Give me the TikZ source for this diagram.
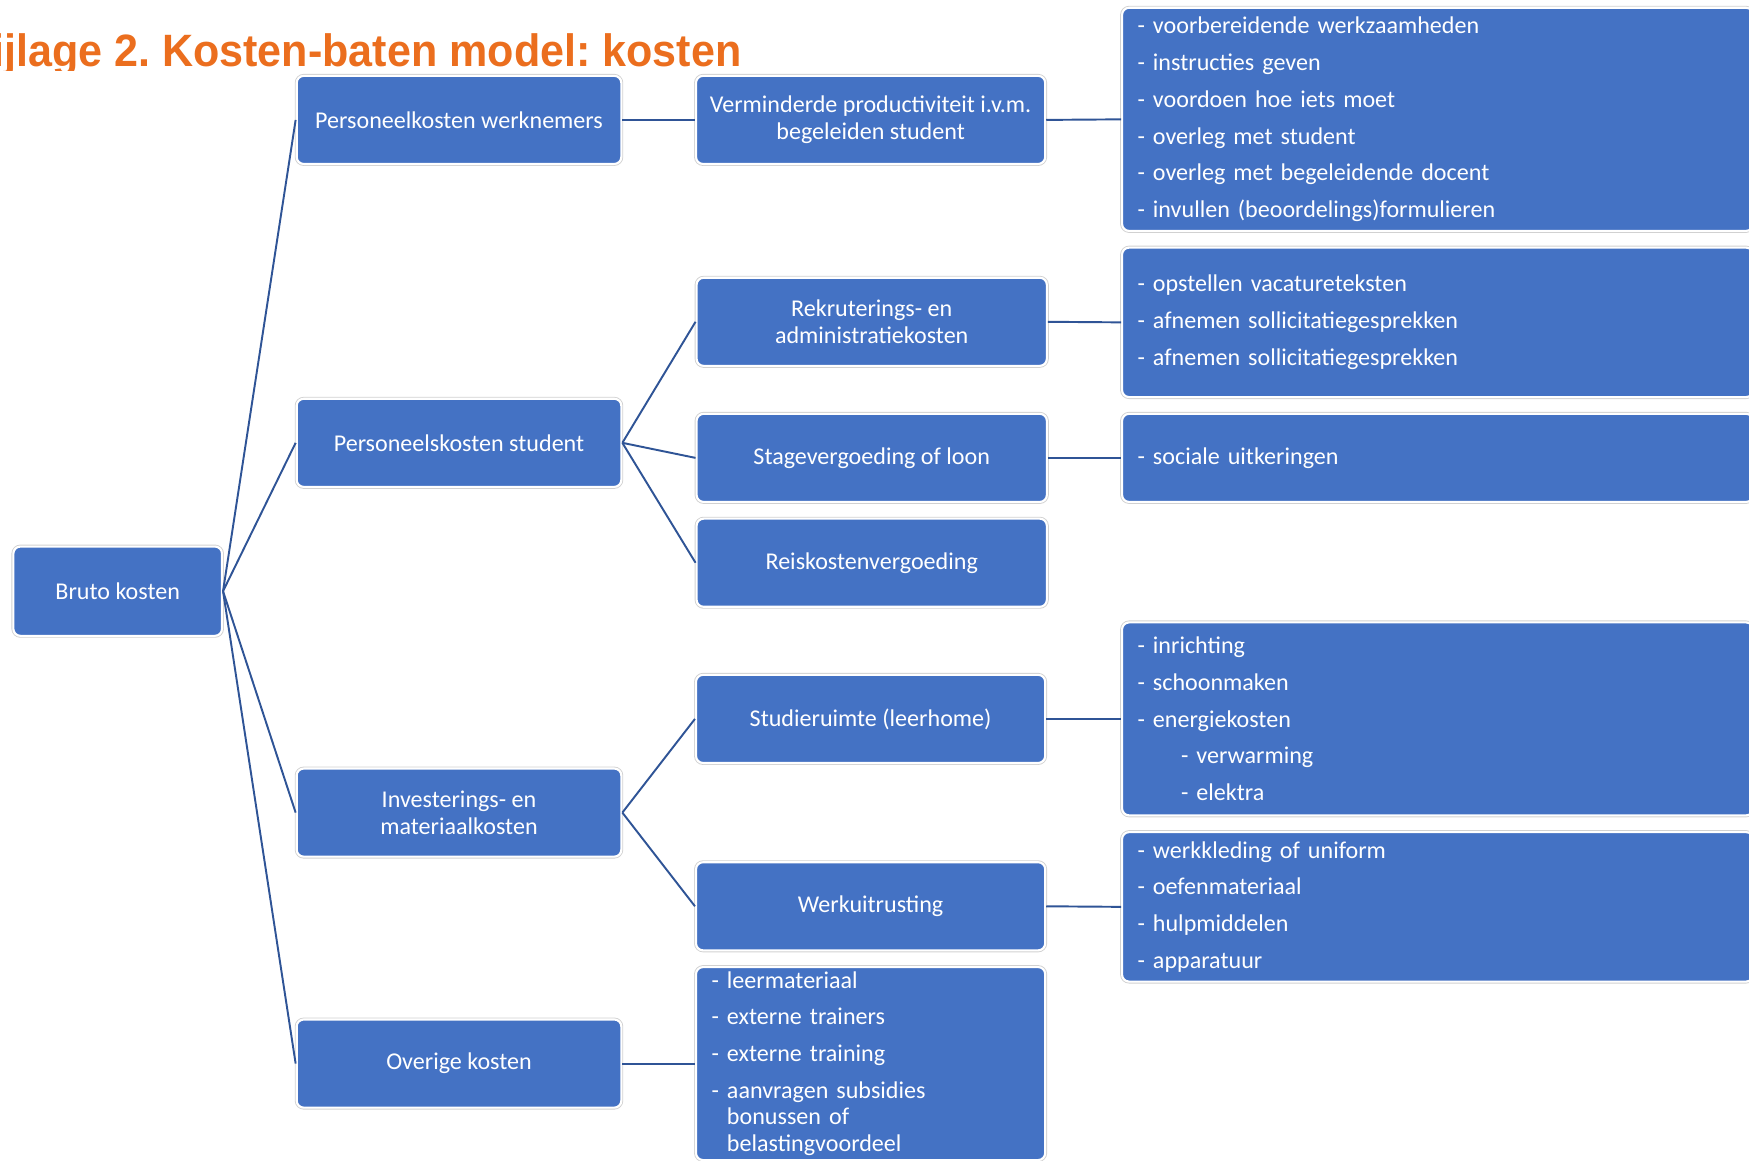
\documentclass[tikz,border=0pt]{standalone}
\usepackage{fontspec}
\setmainfont{Carlito}
\newfontfamily\titlefont{Liberation Sans}
\usepackage{graphicx}
\usepackage{tikz}
\usetikzlibrary{positioning}
\usepackage{xcolor}
\definecolor{boxblue}{RGB}{68,114,196}
\definecolor{linkblue}{RGB}{47,84,150}
\definecolor{titleorange}{RGB}{235,110,30}
\frenchspacing

\tikzset{
  costbox/.style={rectangle,rounded corners=4pt,fill=boxblue,draw=white,line width=1.2pt,
    preaction={draw=black!18,line width=2.2pt},
    text=white,align=center,font=\fontsize{13.7}{15.2}\selectfont,
    minimum width=7.005cm,minimum height=1.762cm,inner sep=2pt},
  listbox/.style={costbox,anchor=west,align=left,text width=12.0cm,inner xsep=0.31cm},
  link/.style={draw=linkblue,line width=1.1pt}
}

\begin{document}
\begin{tikzpicture}[x=0.022309cm,y=-0.022309cm]
\useasboundingbox (0,0) rectangle (1568,1040);
\clip (0,0) rectangle (1568,1040);

% title, lower edge hidden behind the chart
\begin{scope}
\clip (0,0) rectangle (1568,63);
\node[anchor=base east,text=titleorange,inner sep=0,
      font=\titlefont\bfseries\fontsize{25.8}{30}\selectfont] (title) at (665,60)
  {\scalebox{0.95}[1]{Bijlage 2. Kosten-baten model: kosten}};
\end{scope}

% root and first level
\node[costbox,minimum width=4.172cm,minimum height=1.785cm] (bruto) at (105.5,530) {Bruto kosten};
\node[costbox,minimum width=6.492cm] (werknemers) at (411.5,107.5) {Personeelkosten werknemers};
\node[costbox,minimum width=6.492cm] (student) at (411.5,397) {Personeelskosten student};
\node[costbox,minimum width=6.492cm] (investering) at (411.5,728.5) {Investerings- en\\materiaalkosten};
\node[costbox,minimum width=6.492cm] (overig) at (411.5,953.5) {Overige kosten};

% second level
\node[costbox,minimum width=6.983cm] (verminderd) at (780.5,107.5) {Verminderde productiviteit i.v.m.\\begeleiden student};
\node[costbox] (rekrutering) at (781.5,288.5) {Rekruterings- en\\administratiekosten};
\node[costbox] (stage) at (781.5,410.5) {Stagevergoeding of loon};
\node[costbox] (reiskosten) at (781.5,504.5) {Reiskostenvergoeding};
\node[costbox,minimum width=6.983cm] (studieruimte) at (780.5,644.5) {Studieruimte (leerhome)};
\node[costbox,minimum width=6.983cm] (uitrusting) at (780.5,812.5) {Werkuitrusting};
\node[costbox,align=left,minimum width=6.983cm,minimum height=3.859cm,text width=6.36cm,inner xsep=0.31cm]
  (overiglijst) at (780.5,953.5) {%
  - leermateriaal\\[5.7pt]
  - externe trainers\\[5.7pt]
  - externe training\\[5.7pt]
  - aanvragen subsidies\\
  \phantom{- }bonussen of\\
  \phantom{- }belastingvoordeel};

% third level
\node[listbox,minimum height=4.462cm] (begeleiding) at (1005,107) {%
  - voorbereidende werkzaamheden\\[5.7pt]
  - instructies geven\\[5.7pt]
  - voordoen hoe iets moet\\[5.7pt]
  - overleg met student\\[5.7pt]
  - overleg met begeleidende docent\\[5.7pt]
  - invullen (beoordelings)formulieren};
\node[listbox,minimum height=2.989cm] (werving) at (1005,289) {%
  - opstellen vacatureteksten\\[5.7pt]
  - afnemen sollicitatiegesprekken\\[5.7pt]
  - afnemen sollicitatiegesprekken};
\node[listbox,minimum height=1.762cm] (uitkering) at (1005,410.5) {- sociale uitkeringen};
\node[listbox,minimum height=3.859cm] (ruimte) at (1005,644.5) {%
  - inrichting\\[5.7pt]
  - schoonmaken\\[5.7pt]
  - energiekosten\\[5.7pt]
  \hspace*{0.87cm}- verwarming\\[5.7pt]
  \hspace*{0.87cm}- elektra};
\node[listbox,minimum height=2.989cm] (middelen) at (1005,813) {%
  - werkkleding of uniform\\[5.7pt]
  - oefenmateriaal\\[5.7pt]
  - hulpmiddelen\\[5.7pt]
  - apparatuur};

% connectors
\foreach \child in {werknemers,student,investering,overig}
  \draw[link] (bruto.east) -- (\child.west);
\draw[link] (werknemers.east) -- (verminderd.west);
\foreach \child in {rekrutering,stage,reiskosten}
  \draw[link] (student.east) -- (\child.west);
\foreach \child in {studieruimte,uitrusting}
  \draw[link] (investering.east) -- (\child.west);
\draw[link] (overig.east) -- (overiglijst.west);
\draw[link] (verminderd.east) -- (begeleiding.west);
\draw[link] (rekrutering.east) -- (werving.west);
\draw[link] (stage.east) -- (uitkering.west);
\draw[link] (studieruimte.east) -- (ruimte.west);
\draw[link] (uitrusting.east) -- (middelen.west);
\end{tikzpicture}
\end{document}
